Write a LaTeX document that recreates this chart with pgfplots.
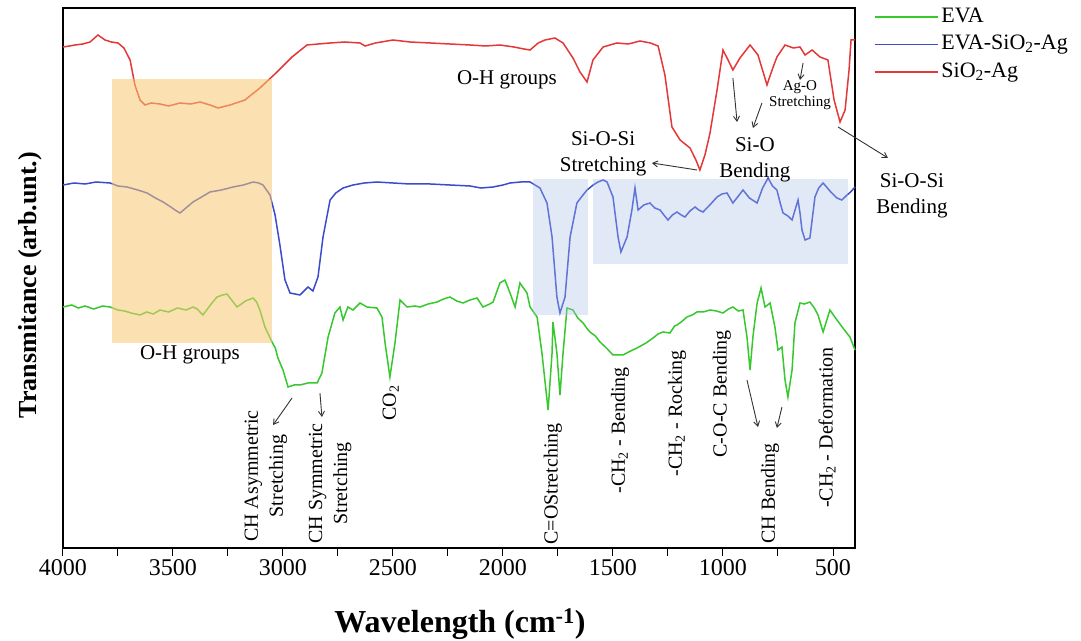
\documentclass[border=0pt]{standalone}
\usepackage{pgfplots}
\pgfplotsset{compat=1.18}
\usepackage{fontspec}
\setmainfont{Liberation Serif}
\usetikzlibrary{arrows.meta}

\definecolor{cgreen}{RGB}{55,200,45}
\definecolor{cblue}{RGB}{60,75,205}
\definecolor{cred}{RGB}{228,55,55}
\definecolor{corange}{RGB}{247,200,115}
\definecolor{cshade}{RGB}{168,192,232}

\tikzset{
  annot/.style={font=\fontsize{21}{26}\selectfont, align=center, inner sep=0pt},
  vlab/.style={font=\fontsize{20}{25}\selectfont, align=center, rotate=90, anchor=east, inner sep=0pt},
  arr/.style={-{Straight Barb[length=5pt,width=6pt]}, line width=0.9pt, black!80},
}

\begin{document}
\begin{tikzpicture}
\useasboundingbox (0pt,0pt) rectangle (1081pt,640pt);
\begin{axis}[
  at={(63pt,92pt)}, anchor=south west,
  width=792pt, height=540pt, scale only axis,
  xmin=400, xmax=4000, ymin=0, ymax=540, x dir=reverse,
  axis line style={line width=1.2pt},
  xtick={4000,3500,...,500}, minor xtick={3750,3250,...,750},
  xtick pos=bottom, ytick=\empty, tick align=outside,
  major tick length=8pt, minor tick length=8pt,
  every tick/.style={black, line width=1pt},
  x tick label style={font=\fontsize{24}{24}\selectfont, /pgf/number format/assume math mode=true, /pgf/number format/1000 sep={}},
  clip=false,
  legend cell align=left,
  legend style={draw=none, fill=none, at={(axis description cs:1.020,1.009)}, anchor=north west,
    font=\fontsize{22}{26}\selectfont, row sep=4.5pt, column sep=2pt,
    nodes={inner sep=1pt, text height=16pt, text depth=5pt}},
  legend image code/.code={\draw[#1, line width=1.4pt] (0pt,0pt) -- (63pt,0pt);},
]
% EVA
\addplot[cgreen, line width=1.5pt] coordinates {
(4000,241)(3960,243)(3930,240)(3900,242)(3860,239)(3820,242)(3786,241)(3750,238)(3720,237)(3690,235)(3650,233)(3620,236)(3590,234)(3559,238)(3520,236)(3480,240)(3440,238)(3409,241)(3390,239)(3364,233)(3330,243)(3300,251)(3275,253)(3255,254)
(3230,247)(3209,241)(3170,247)(3136,250)(3120,246)(3105,238)(3082,221)(3050,206)(3035,200)(3023,190)(3000,178)(2977,161)(2950,163)(2923,163)(2886,165)
(2845,165)(2823,175)(2795,211)(2764,235)(2741,241)(2727,228)(2705,241)(2682,238)(2650,245)(2618,241)
(2573,240)(2550,231)(2536,205)(2514,171)(2491,205)(2468,248)(2436,241)(2400,242)(2377,241)(2340,244)(2300,246)(2270,249)(2241,251)
(2210,247)(2182,245)(2150,248)(2118,250)(2091,241)(2060,244)(2045,246)(2014,265)(1991,268)(1968,255)(1945,241)(1923,265)(1891,255)
(1877,241)(1845,231)(1823,195)(1795,138)(1777,195)(1773,226)(1755,195)(1741,153)(1727,195)(1709,240)
(1682,238)(1660,230)(1636,225)(1620,220)(1605,216)(1580,212)(1559,206)(1530,200)(1500,193)(1455,193)(1420,197)(1391,200)(1350,205)(1318,210)(1295,214)(1273,216)(1241,215)
(1220,222)(1209,223)(1190,226)(1164,231)(1140,233)(1118,236)(1090,236)(1059,238)(1030,237)(1000,235)(975,239)(955,241)(930,237)(909,238)(891,211)(877,178)(864,211)
(845,245)(827,260)(809,241)(786,245)(764,221)(750,198)(732,201)(718,168)(705,151)(686,178)(673,225)
(650,245)(630,244)(605,246)(585,240)(568,233)(545,216)(514,238)(495,232)(482,228)(455,220)(423,211)(400,198)
};
\addlegendentry{EVA}
% EVA-SiO2-Ag
\addplot[cblue, line width=1.5pt] coordinates {
(4000,363)(3950,365)(3900,364)(3850,366)(3786,365)(3750,362)(3709,361)(3660,358)(3618,355)(3580,350)(3545,346)(3510,341)(3491,338)(3468,335)(3436,341)(3409,346)
(3370,351)(3332,356)(3280,358)(3227,361)(3180,363)(3136,366)(3110,365)(3091,363)(3059,353)(3036,333)(3014,303)(2991,268)(2968,255)(2923,253)
(2886,261)(2864,257)(2841,271)(2818,311)(2786,348)(2760,355)(2727,360)(2682,363)(2630,365)(2573,366)(2500,365)(2423,364)(2330,364)(2241,363)
(2150,362)(2100,360)(2045,361)(2000,363)(1968,365)(1920,366)(1877,366)(1832,360)(1800,345)(1777,311)(1755,251)(1741,235)(1718,251)(1695,311)
(1664,345)(1640,352)(1618,358)(1590,363)(1568,366)(1545,368)(1527,366)(1500,351)(1477,311)(1464,296)(1436,311)(1414,338)(1400,360)
(1386,338)(1360,343)(1332,345)(1310,340)(1286,338)(1265,332)(1250,328)(1230,333)(1209,336)(1190,333)(1173,331)(1150,337)(1127,341)(1110,338)(1091,336)(1060,343)(1027,351)(1005,354)(982,355)
(955,345)(930,352)(909,358)(880,350)(845,345)(820,360)(795,370)(775,362)(755,358)(740,345)(727,335)(705,332)(686,328)(659,348)(650,335)(641,318)(627,308)(605,310)
(582,351)(565,360)(545,365)(510,356)(482,350)(460,348)(436,353)(420,356)(400,361)
};
\addlegendentry{EVA-SiO\textsubscript{2}-Ag}
% SiO2-Ag
\addplot[cred, line width=1.5pt] coordinates {
(4000,501)(3970,502)(3945,503)(3910,504)(3877,506)(3841,513)(3809,508)(3780,506)(3750,505)(3723,500)(3695,488)(3673,463)(3650,448)
(3627,443)(3600,445)(3559,444)(3520,442)(3468,445)(3420,444)(3377,446)(3332,443)(3295,440)(3241,443)(3173,448)(3105,460)(3027,476)
(2959,491)(2891,503)(2840,504)(2786,505)(2720,506)(2650,505)(2627,502)(2580,505)(2500,508)(2423,506)(2330,505)(2241,504)(2150,503)(2080,502)(2014,503)(1950,501)(1905,499)(1877,498)
(1840,505)(1809,508)(1764,510)(1727,505)(1682,490)(1650,476)(1618,466)(1591,488)(1545,501)(1482,505)(1430,504)(1377,507)
(1330,505)(1295,502)(1264,473)(1232,421)(1195,408)(1150,400)(1123,388)(1105,378)(1082,393)(1059,415)(1027,458)
(1000,498)(977,488)(955,478)(923,490)(877,503)(841,493)(800,463)(777,478)(755,491)(718,503)(680,500)(650,501)
(627,493)(595,498)(559,491)(523,488)(495,448)(468,426)(445,438)(427,478)(418,508)(400,508)
};
\addlegendentry{SiO\textsubscript{2}-Ag}

% shaded regions
\fill[corange, opacity=0.55] (axis cs:3777,205) rectangle (axis cs:3052,469);
\fill[cshade, opacity=0.35] (axis cs:1862,233) rectangle (axis cs:1612,369);
\fill[cshade, opacity=0.35] (axis cs:1591,284) rectangle (axis cs:432,369);

% annotations (top)
\node[annot] at (axis cs:1982,468) {O-H groups};
\node[annot] at (axis cs:3423,193) {O-H groups};
\node[annot] at (axis cs:1545,394) {Si-O-Si\\Stretching};
\draw[arr] (axis cs:1118,378) -- (axis cs:1323,385);
\node[annot] at (axis cs:855,388) {Si-O\\Bending};
\draw[arr] (axis cs:955,470) -- (axis cs:936,426);
\draw[arr] (axis cs:823,445) -- (axis cs:864,420);
\node[annot, font=\fontsize{15}{16}\selectfont] at (axis cs:650,453) {Ag-O\\Stretching};
\draw[arr] (axis cs:636,485) -- (axis cs:650,468);
\node[annot] at (axis cs:141,352) {Si-O-Si\\Bending};
\draw[arr] (axis cs:477,421) -- (axis cs:250,390);

% annotations (bottom, rotated)
\node[vlab] at (axis cs:3078,138) {CH Asymmetric\\Stretching};
\draw[arr] (axis cs:2959,150) -- (axis cs:3045,123);
\node[vlab] at (axis cs:2786,125) {CH Symmetric\\Stretching};
\draw[arr] (axis cs:2832,155) -- (axis cs:2823,131);
\node[vlab] at (axis cs:2510,163) {CO\textsubscript{2}};
\node[vlab] at (axis cs:1773,125) {C=OStretching};
\node[vlab] at (axis cs:1468,181) {-CH\textsubscript{2} - Bending};
\node[vlab] at (axis cs:1209,198) {-CH\textsubscript{2} - Rocking};
\node[vlab] at (axis cs:1005,218) {C-O-C Bending};
\node[vlab] at (axis cs:786,105) {CH Bending};
\draw[arr] (axis cs:891,168) -- (axis cs:841,121);
\draw[arr] (axis cs:732,141) -- (axis cs:755,120);
\node[vlab] at (axis cs:527,201) {-CH\textsubscript{2} - Deformation};
\end{axis}
\node[font=\bfseries\fontsize{32}{32}\selectfont] at (460pt,16pt) {Wavelength (cm\textsuperscript{-1})};
\node[font=\bfseries\fontsize{26}{26}\selectfont, rotate=90] at (30pt,355pt) {Transmitance (arb.unt.)};
\end{tikzpicture}
\end{document}
